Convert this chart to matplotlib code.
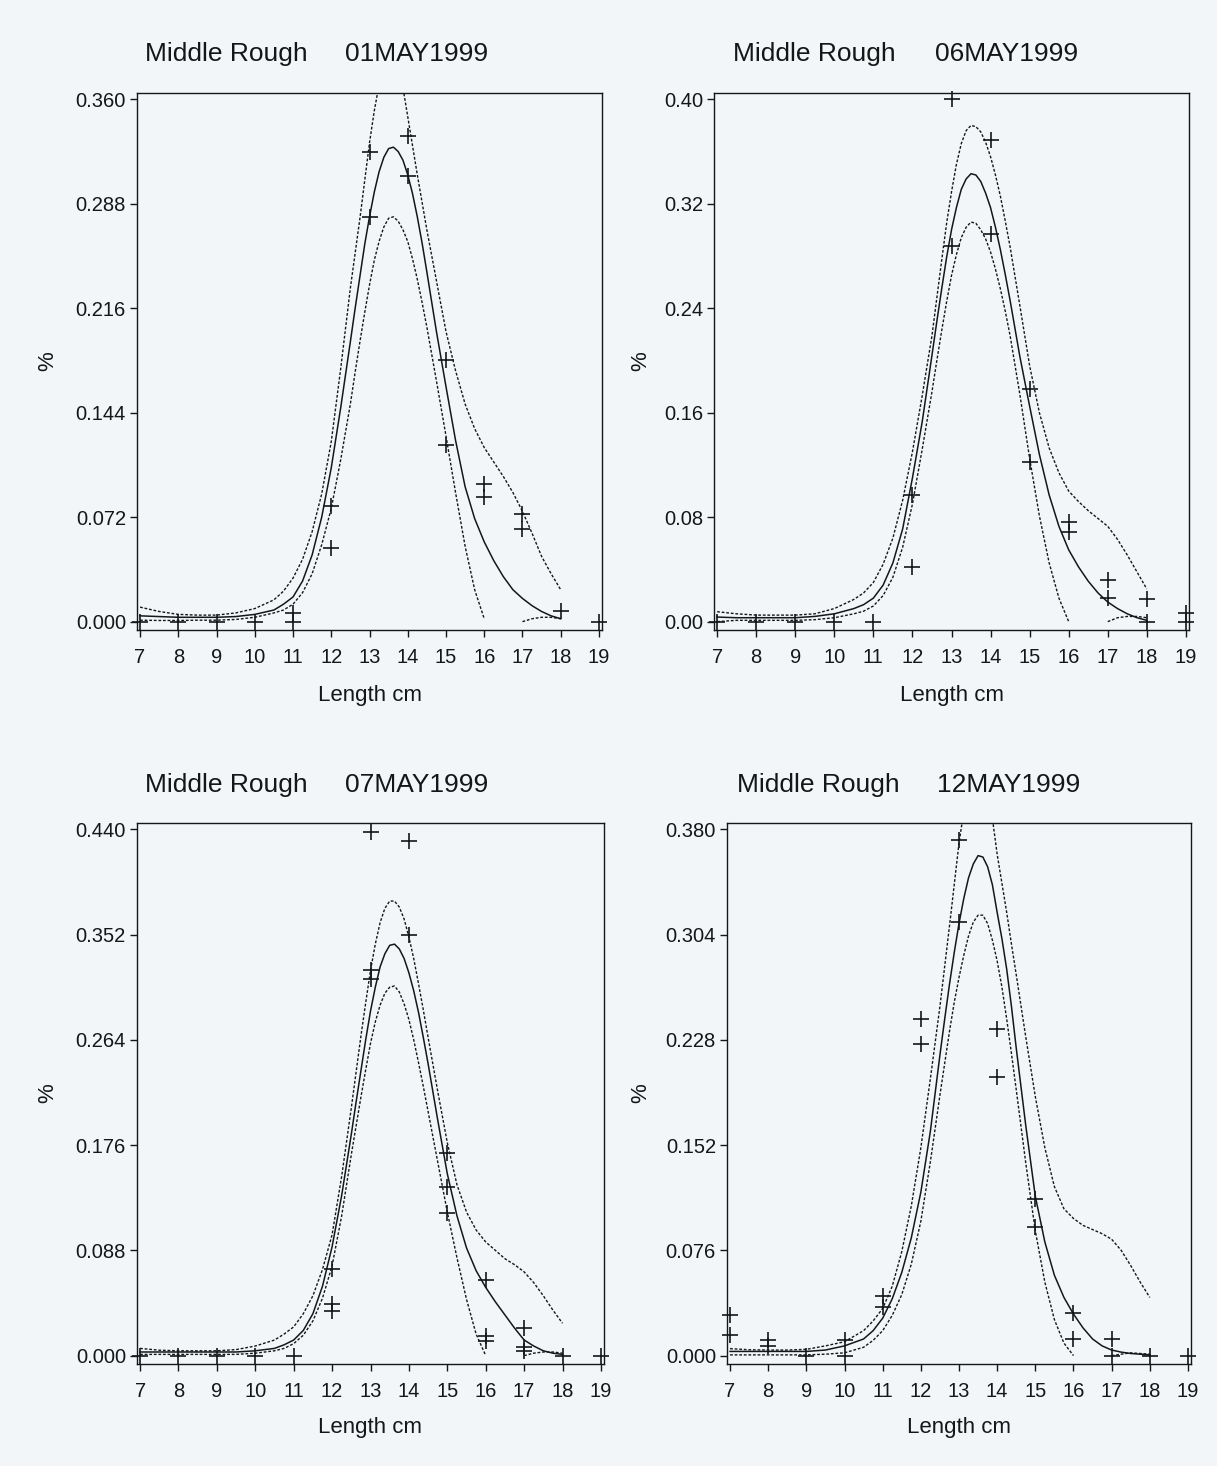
import numpy as np
import matplotlib
matplotlib.use("Agg")
import matplotlib.pyplot as plt

plt.rcParams['font.family'] = ['Liberation Sans', 'DejaVu Sans']

W, H = 1217, 1466
ink = '#161616'
paper = '#f2f6f9'

titles = ["01MAY1999", "06MAY1999", "07MAY1999", "12MAY1999"]
site = "Middle Rough"
y_max = [0.36, 0.40, 0.44, 0.38]
y_decimals = [3, 2, 3, 3]
x_ticks = list(range(7, 20))

# x positions of the fitted curves (cm)
curve_x = [7, 7.5, 8, 8.5, 9, 9.5, 10, 10.5, 10.75, 11, 11.25, 11.5, 11.75, 12,
           12.25, 12.5, 12.625, 12.75, 12.875, 13, 13.125, 13.25, 13.375, 13.5,
           13.625, 13.75, 13.875, 14, 14.125, 14.25, 14.375, 14.5, 14.75, 15,
           15.25, 15.5, 15.75, 16, 16.25, 16.5, 16.75, 17, 17.25, 17.5, 17.75, 18]
nan = float('nan')

# --- 01MAY1999 ---
obs1_x = [7, 8, 9, 10, 11, 11, 12, 12, 13, 13, 14, 14, 15, 15, 16, 16, 17, 17, 18, 19]
obs1_y = [0, 0, 0, 0, 0.006, 0, 0.080, 0.051, 0.324, 0.279, 0.335, 0.307, 0.180,
          0.122, 0.095, 0.086, 0.074, 0.064, 0.007, 0]
fit1 = [0.004, 0.0035, 0.003, 0.003, 0.003, 0.0035, 0.005, 0.008, 0.012, 0.017, 0.028,
        0.046, 0.072, 0.106, 0.148, 0.193, 0.216, 0.238, 0.260, 0.279, 0.296, 0.310,
        0.320, 0.326, 0.327, 0.324, 0.318, 0.308, 0.295, 0.279, 0.261, 0.241, 0.200,
        0.162, 0.125, 0.093, 0.071, 0.055, 0.042, 0.031, 0.022, 0.016, 0.011, 0.007,
        0.004, 0.002]
upr1 = [0.010, 0.007, 0.005, 0.0045, 0.0045, 0.006, 0.009, 0.015, 0.021, 0.030, 0.043,
        0.062, 0.088, 0.124, 0.175, 0.230, 0.254, 0.278, 0.304, 0.330, 0.352, 0.370,
        0.382, 0.389, 0.390, 0.383, 0.368, 0.348, 0.328, 0.308, 0.289, 0.270, 0.235,
        0.200, 0.173, 0.150, 0.133, 0.120, 0.110, 0.100, 0.089, 0.076, 0.061, 0.045,
        0.033, 0.022]
lwr1 = [0.001, 0.0008, 0.0008, 0.001, 0.001, 0.0015, 0.003, 0.006, 0.008, 0.012, 0.020,
        0.033, 0.053, 0.078, 0.112, 0.150, 0.172, 0.193, 0.213, 0.232, 0.249, 0.262,
        0.272, 0.278, 0.279, 0.276, 0.270, 0.262, 0.250, 0.236, 0.220, 0.203, 0.166,
        0.128, 0.089, 0.052, 0.022, 0.002, nan, nan, nan, 0.0, 0.002, 0.003, 0.003, 0.002]

# --- 06MAY1999 ---
obs2_x = [7, 8, 9, 10, 11, 12, 12, 13, 13, 14, 14, 15, 15, 16, 16, 17, 17, 18, 18, 19, 19]
obs2_y = [0, 0, 0, 0, 0, 0.097, 0.042, 0.400, 0.288, 0.369, 0.297, 0.178, 0.122,
          0.076, 0.069, 0.032, 0.018, 0.017, 0.0, 0.007, 0.0]
fit2 = [0.0035, 0.003, 0.003, 0.003, 0.003, 0.004, 0.006, 0.010, 0.013, 0.018, 0.028,
        0.045, 0.071, 0.110, 0.153, 0.204, 0.230, 0.255, 0.279, 0.300, 0.317, 0.331,
        0.339, 0.343, 0.342, 0.337, 0.328, 0.317, 0.302, 0.285, 0.266, 0.246, 0.203,
        0.165, 0.128, 0.097, 0.073, 0.055, 0.042, 0.031, 0.022, 0.015, 0.010, 0.006,
        0.003, 0.001]
upr2 = [0.0076, 0.006, 0.005, 0.005, 0.005, 0.006, 0.010, 0.017, 0.022, 0.030, 0.044,
        0.064, 0.093, 0.130, 0.173, 0.219, 0.248, 0.277, 0.305, 0.329, 0.350, 0.366,
        0.376, 0.380, 0.379, 0.375, 0.367, 0.356, 0.342, 0.326, 0.307, 0.287, 0.242,
        0.196, 0.160, 0.133, 0.114, 0.100, 0.092, 0.085, 0.079, 0.073, 0.063, 0.051,
        0.038, 0.025]
lwr2 = [0.0, 0.001, 0.001, 0.001, 0.001, 0.0015, 0.003, 0.006, 0.008, 0.012, 0.020,
        0.034, 0.057, 0.090, 0.132, 0.176, 0.200, 0.223, 0.245, 0.265, 0.281, 0.294,
        0.302, 0.306, 0.305, 0.300, 0.293, 0.283, 0.270, 0.255, 0.238, 0.219, 0.174,
        0.125, 0.081, 0.045, 0.018, 0.0, nan, nan, nan, 0.0, 0.003, 0.004, 0.004, 0.003]

# --- 07MAY1999 ---
obs3_x = [7, 8, 9, 10, 11, 12, 12, 12, 13, 13, 13, 14, 14, 15, 15, 15, 16, 16, 16,
          17, 17, 17, 18, 19]
obs3_y = [0, 0, 0, 0, 0, 0.072, 0.043, 0.037, 0.438, 0.322, 0.315, 0.430, 0.352,
          0.169, 0.141, 0.119, 0.063, 0.016, 0.012, 0.023, 0.007, 0.004, 0, 0]
fit3 = [0.003, 0.003, 0.003, 0.003, 0.003, 0.003, 0.004, 0.006, 0.009, 0.013, 0.021,
        0.035, 0.058, 0.091, 0.134, 0.185, 0.212, 0.238, 0.264, 0.288, 0.308, 0.325,
        0.336, 0.343, 0.344, 0.340, 0.332, 0.320, 0.305, 0.287, 0.266, 0.244, 0.197,
        0.152, 0.117, 0.090, 0.071, 0.057, 0.045, 0.034, 0.023, 0.013, 0.008, 0.004,
        0.002, 0.001]
upr3 = [0.006, 0.0045, 0.004, 0.004, 0.004, 0.005, 0.008, 0.013, 0.018, 0.024, 0.035,
        0.050, 0.072, 0.101, 0.150, 0.207, 0.237, 0.267, 0.295, 0.322, 0.344, 0.362,
        0.374, 0.380, 0.380, 0.375, 0.365, 0.350, 0.332, 0.311, 0.289, 0.266, 0.221,
        0.178, 0.143, 0.120, 0.105, 0.095, 0.088, 0.081, 0.076, 0.070, 0.061, 0.050,
        0.038, 0.027]
lwr3 = [0.001, 0.001, 0.001, 0.001, 0.001, 0.001, 0.002, 0.004, 0.006, 0.010, 0.017,
        0.029, 0.048, 0.075, 0.117, 0.168, 0.192, 0.216, 0.239, 0.261, 0.279, 0.293,
        0.303, 0.308, 0.309, 0.304, 0.294, 0.281, 0.264, 0.245, 0.225, 0.204, 0.162,
        0.120, 0.082, 0.047, 0.018, 0.0, nan, nan, nan, 0.0, 0.002, 0.003, 0.003, 0.002]

# --- 12MAY1999 ---
obs4_x = [7, 7, 8, 8, 9, 10, 10, 11, 11, 12, 12, 13, 13, 14, 14, 15, 15, 16, 16,
          17, 17, 18, 19]
obs4_y = [0.029, 0.015, 0.011, 0.007, 0, 0.011, 0, 0.043, 0.035, 0.243, 0.225, 0.372,
          0.313, 0.236, 0.201, 0.113, 0.093, 0.031, 0.012, 0.012, 0.0, 0, 0]
fit4 = [0.003, 0.003, 0.003, 0.003, 0.003, 0.004, 0.007, 0.012, 0.018, 0.027, 0.041,
        0.060, 0.085, 0.118, 0.162, 0.217, 0.243, 0.268, 0.291, 0.312, 0.330, 0.345,
        0.355, 0.361, 0.360, 0.353, 0.340, 0.320, 0.301, 0.279, 0.252, 0.222, 0.166,
        0.115, 0.082, 0.058, 0.042, 0.030, 0.020, 0.012, 0.007, 0.004, 0.0025, 0.0015,
        0.001, 0.0005]
upr4 = [0.005, 0.0042, 0.004, 0.004, 0.0045, 0.007, 0.010, 0.018, 0.025, 0.034, 0.050,
        0.075, 0.108, 0.150, 0.200, 0.252, 0.281, 0.310, 0.340, 0.370, 0.393, 0.410,
        0.420, 0.425, 0.422, 0.410, 0.388, 0.362, 0.341, 0.320, 0.297, 0.275, 0.230,
        0.187, 0.150, 0.122, 0.106, 0.099, 0.094, 0.091, 0.088, 0.084, 0.076, 0.065,
        0.053, 0.042]
lwr4 = [0.0005, 0.0005, 0.0005, 0.0005, 0.0005, 0.001, 0.002, 0.006, 0.011, 0.018, 0.029,
        0.044, 0.066, 0.097, 0.140, 0.188, 0.211, 0.234, 0.255, 0.273, 0.289, 0.303,
        0.313, 0.318, 0.318, 0.312, 0.300, 0.285, 0.266, 0.243, 0.218, 0.192, 0.139,
        0.090, 0.053, 0.026, 0.009, 0.0, nan, nan, nan, 0.0, 0.001, 0.002, 0.0015, 0.001]

obs_x = [obs1_x, obs2_x, obs3_x, obs4_x]
obs_y = [obs1_y, obs2_y, obs3_y, obs4_y]
fits = [fit1, fit2, fit3, fit4]
uppers = [upr1, upr2, upr3, upr4]
lowers = [lwr1, lwr2, lwr3, lwr4]

# layout in pixels: (left, right, top, bottom) of each frame
boxes = [(137, 602, 93, 630), (714, 1189, 93, 630),
         (137, 604, 823, 1364), (727, 1191, 823, 1364)]
title_pos = [(145, 345, 54), (733, 935, 54), (145, 345, 785), (737, 937, 785)]
ylabel_x = [48, 641, 48, 641]
xlabel_y = [695, 695, 1427, 1427]

fig = plt.figure(figsize=(W / 100, H / 100), dpi=100, facecolor=paper)

for i in range(4):
    l, r, t, b = boxes[i]
    ax = fig.add_axes([l / W, 1 - b / H, (r - l) / W, (b - t) / H])
    ax.set_facecolor(paper)

    ax.plot(curve_x, fits[i], color=ink, lw=1.1)
    ax.plot(curve_x, uppers[i], color=ink, lw=1.0, ls=(0, (2.0, 1.3)))
    ax.plot(curve_x, lowers[i], color=ink, lw=1.0, ls=(0, (2.0, 1.3)))
    ax.plot(obs_x[i], obs_y[i], ls='none', marker='+', ms=12, mew=1.2,
            color=ink, clip_on=False)

    top = y_max[i]
    ax.set_xlim(6.92, 19.08)
    ax.set_ylim(-0.016 * top, top * 1.012)
    yt = np.linspace(0, top, 6)
    ax.set_yticks(yt)
    ax.set_yticklabels([f"{v:.{y_decimals[i]}f}" for v in yt])
    ax.set_xticks(x_ticks)
    ax.tick_params(direction='out', length=5, width=1, color=ink,
                   labelsize=14.5, labelcolor=ink)
    ax.tick_params(axis='x', pad=8)
    ax.tick_params(axis='y', pad=3)
    for s in ax.spines.values():
        s.set_color(ink)
        s.set_linewidth(1.0)

    tx1, tx2, ty = title_pos[i]
    fig.text(tx1 / W, 1 - ty / H, site, fontsize=19, color=ink, va='center')
    fig.text(tx2 / W, 1 - ty / H, titles[i], fontsize=19, color=ink, va='center')
    fig.text(ylabel_x[i] / W, 1 - ((t + b) / 2) / H, "%", fontsize=16, color=ink,
             rotation=90, ha='center', va='center')
    fig.text(((l + r) / 2) / W, 1 - xlabel_y[i] / H, "Length cm", fontsize=16,
             color=ink, ha='center', va='center')

fig.savefig("out.png", dpi=100, facecolor=paper)
